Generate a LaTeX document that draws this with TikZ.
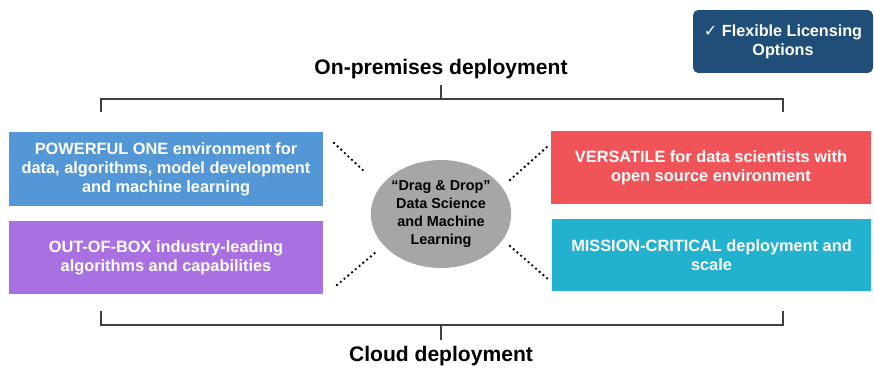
\documentclass[tikz,border=0pt]{standalone}
\usepackage{fontspec}
\setmainfont{Liberation Sans}
\newfontfamily\symfont{DejaVu Sans}
\usepackage{xcolor}
\usetikzlibrary{positioning}
\usetikzlibrary{shapes.geometric}

\definecolor{powerblue}{RGB}{84,151,214}
\definecolor{boxpurple}{RGB}{169,112,226}
\definecolor{boxred}{RGB}{240,84,88}
\definecolor{boxcyan}{RGB}{34,177,207}
\definecolor{licblue}{RGB}{31,78,121}
\definecolor{hubgray}{RGB}{166,166,166}

\begin{document}
\begin{tikzpicture}[x=0.02cm,y=-0.02cm]
\tikzset{featbox/.style={rectangle, inner sep=0pt, align=center, text=white,
    font=\bfseries\fontsize{9.3}{10.8}\selectfont},
  bracket/.style={draw=black!75, line width=0.6pt},
  dotline/.style={line width=1.5pt, dash pattern=on 0pt off 2.8pt, line cap=round},
  heading/.style={font=\bfseries\fontsize{12}{14}\selectfont}}
\useasboundingbox (0,0) rectangle (874,369);

% licensing badge
\node[featbox, fill=licblue, rounded corners=3pt, minimum width=3.6cm, minimum height=1.26cm,
  font=\bfseries\fontsize{9.2}{10.8}\selectfont] (lic) at (783,41.5) {{\symfont\mdseries ✓} Flexible Licensing\\Options};

% headings and brackets
\node[heading] (onprem) at (441,69) {On-premises deployment};
\node[heading] (cloud) at (441,356) {Cloud deployment};

\coordinate (tl) at (101,112);
\coordinate (tr) at (783,112);
\coordinate (tm) at (441,99);
\coordinate (bl) at (101,311);
\coordinate (br) at (783,311);
\coordinate (bm) at (441,325);

\draw[bracket] (tl) -- (101,99) -- (783,99) -- (tr);
\draw[bracket] (tm) -- (onprem.south);
\draw[bracket] (bl) -- (101,325) -- (783,325) -- (br);
\draw[bracket] (bm) -- (cloud.north);

% feature boxes
\node[featbox, fill=powerblue, minimum width=6.28cm, minimum height=1.48cm] (powerful) at (166,169)
  {POWERFUL ONE environment for\\data, algorithms, model development\\and machine learning};
\node[featbox, fill=boxpurple, minimum width=6.28cm, minimum height=1.46cm] (outofbox) at (166,257.5)
  {OUT-OF-BOX industry-leading\\algorithms and capabilities};
\node[featbox, fill=boxred, minimum width=6.4cm, minimum height=1.46cm] (versatile) at (711,167.5)
  {VERSATILE for data scientists with\\open source environment};
\node[featbox, fill=boxcyan, minimum width=6.38cm, minimum height=1.44cm] (mission) at (711.5,255)
  {MISSION-CRITICAL deployment and\\scale};

% hub
\node[ellipse, fill=hubgray, minimum width=2.68cm, minimum height=2.16cm, inner sep=0pt, align=center,
  font=\bfseries\fontsize{8.2}{10.2}\selectfont] (hub) at (441,214)
  {``Drag \& Drop''\\Data Science\\and Machine\\Learning};

% dotted links
\coordinate (ul1) at (334,143);
\coordinate (ul2) at (366,173);
\coordinate (ll1) at (337,285);
\coordinate (ll2) at (376,252);
\coordinate (ur1) at (510,180);
\coordinate (ur2) at (548,146);
\coordinate (lr1) at (510,246);
\coordinate (lr2) at (549,280);
\draw[dotline] (ul1) -- (ul2);
\draw[dotline] (ll1) -- (ll2);
\draw[dotline] (ur1) -- (ur2);
\draw[dotline] (lr1) -- (lr2);
\end{tikzpicture}
\end{document}
